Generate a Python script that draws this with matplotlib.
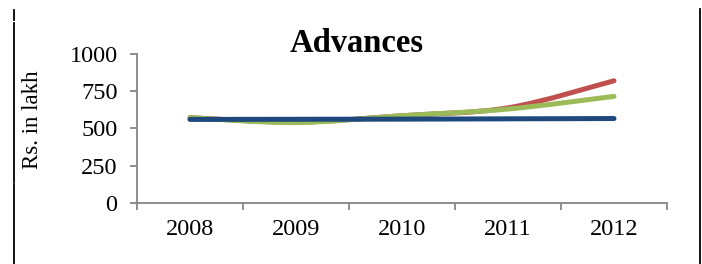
import numpy as np
import matplotlib
matplotlib.use("Agg")
import matplotlib.pyplot as plt
from matplotlib.path import Path
from matplotlib.patches import PathPatch
from matplotlib.lines import Line2D

years = ["2008", "2009", "2010", "2011", "2012"]
series_red = [572, 542, 585, 638, 820]
series_green = [572, 539, 585, 630, 715]
series_blue = [560, 561, 562, 564, 566]
yticks = [0, 250, 500, 750, 1000]

colors = {"red": "#C0504D", "green": "#9BBB59", "blue": "#1F497D"}

plt.rcParams['font.family'] = ['Liberation Serif', 'DejaVu Serif']

fig = plt.figure(figsize=(7.02, 2.64), dpi=100)
ax = fig.add_axes([137/702, 1-202.7/264, 530/702, (202.7-54)/264])


def smooth_path(xs, ys):
    pts = np.column_stack([xs, ys]).astype(float)
    n = len(pts)
    verts = [pts[0]]
    codes = [Path.MOVETO]
    for i in range(n - 1):
        p0 = pts[i - 1] if i > 0 else pts[i]
        p1 = pts[i]
        p2 = pts[i + 1]
        p3 = pts[i + 2] if i + 2 < n else pts[i + 1]
        c1 = p1 + (p2 - p0) / 6.0
        c2 = p2 - (p3 - p1) / 6.0
        verts += [c1, c2, p2]
        codes += [Path.CURVE4] * 3
    return Path(verts, codes)


x = np.arange(len(years))
for vals, key in [(series_red, "red"), (series_green, "green"), (series_blue, "blue")]:
    patch = PathPatch(smooth_path(x, vals), fill=False, edgecolor=colors[key],
                      lw=3.6, capstyle="round", joinstyle="round")
    ax.add_patch(patch)

ax.set_xlim(-0.5, len(years) - 0.5)
ax.set_ylim(0, 1000)
ax.set_yticks(yticks)
ax.set_yticklabels([str(v) for v in yticks], fontsize=17.5)
ax.set_xticks(x)
ax.set_xticklabels(years, fontsize=17.5)
ax.set_xticks(np.arange(len(years) + 1) - 0.5, minor=True)
ax.tick_params(axis="x", which="major", length=0, pad=12)
ax.tick_params(axis="x", which="minor", length=5, width=1.3, color="#868686")
ax.tick_params(axis="y", length=5, width=1.3, color="#868686", pad=9)
for s in ["top", "right"]:
    ax.spines[s].set_visible(False)
for s in ["left", "bottom"]:
    ax.spines[s].set_color("#868686")
    ax.spines[s].set_linewidth(1.3)

fig.text(32/702, 1-120/264, "Rs. in lakh", rotation=90, ha="center", va="center",
         fontsize=16.5)

fig.text(357/702, 1-52/264, "Advances", ha="center", va="baseline",
         fontsize=23.5, fontweight="bold")

# page borders
for (xf, y0, y1) in [(14/702, 10, 20), (14/702, 23, 182), (14/702, 184, 264), (700/702, 9, 264)]:
    fig.add_artist(Line2D([xf, xf], [1-y0/264, 1-y1/264], transform=fig.transFigure,
                          color="black", lw=1.3))

fig.savefig("out.png", dpi=100)
